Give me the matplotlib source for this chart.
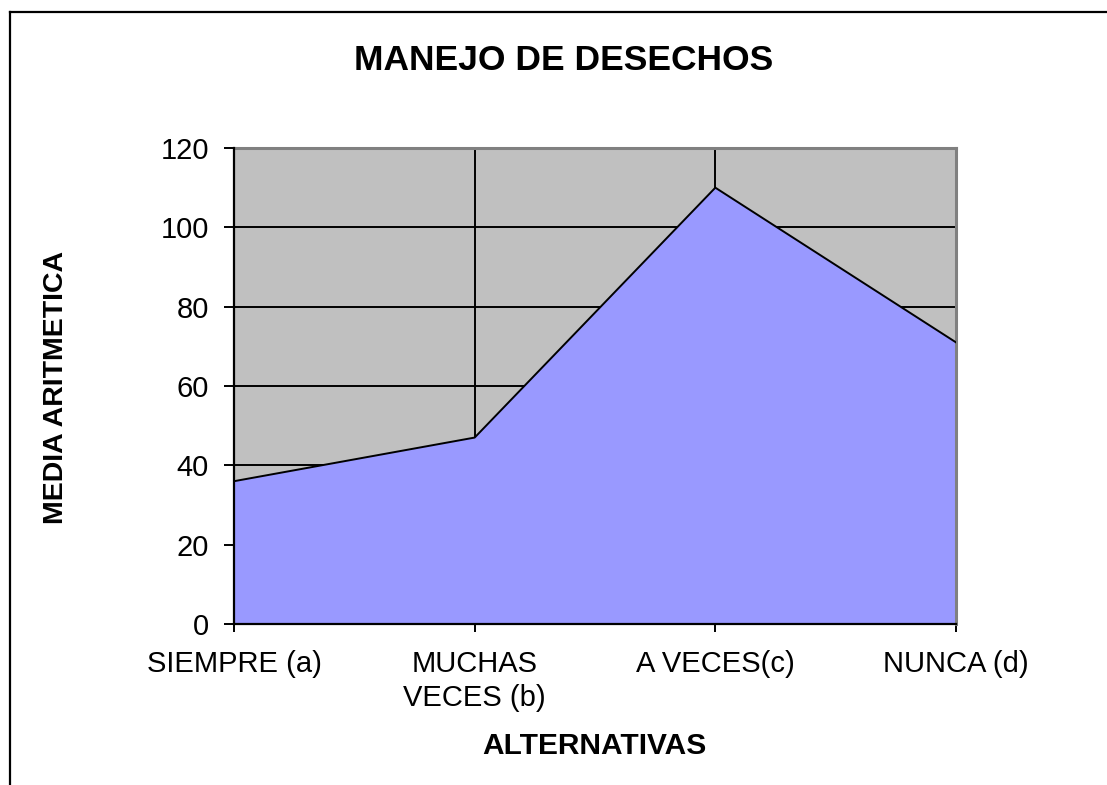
import matplotlib
matplotlib.use("Agg")
import matplotlib.pyplot as plt
from matplotlib.lines import Line2D

categories = ["SIEMPRE (a)", "MUCHAS\nVECES (b)", "A VECES(c)", "NUNCA (d)"]
values = [36, 47, 110, 71]
yticks = [0, 20, 40, 60, 80, 100, 120]

plt.rcParams['font.family'] = ['Liberation Sans', 'DejaVu Sans']

W, H = 1107, 785
fig = plt.figure(figsize=(W / 100, H / 100), dpi=100)
ax = fig.add_axes([234 / W, (H - 624) / H, (956 - 234) / W, (624 - 148) / H])

x = list(range(len(categories)))
ax.set_facecolor('#C0C0C0')
ax.fill_between(x, values, 0, facecolor='#9999FF', edgecolor='none', zorder=2)
ax.plot(x, values, color='black', lw=1.4, zorder=3)

ax.set_xlim(0, len(categories) - 1)
ax.set_ylim(0, 120)
ax.set_yticks(yticks)
ax.set_xticks(x)
ax.set_xticklabels(categories, fontsize=21, linespacing=1.27)
ax.tick_params(axis='y', labelsize=21, direction='out', length=7, width=1.4, pad=11)
ax.tick_params(axis='x', direction='out', length=6, width=1.4, pad=13)

ax.grid(True, color='black', lw=1.4, zorder=1)
ax.set_axisbelow(True)

for s in ['left', 'bottom']:
    ax.spines[s].set_color('black')
    ax.spines[s].set_linewidth(1.6)
    ax.spines[s].set_zorder(4)
for s in ['right', 'top']:
    ax.spines[s].set_color('#808080')
    ax.spines[s].set_linewidth(2.2)

fig.text(564 / W, 1 - 60 / H, "MANEJO DE DESECHOS", fontsize=25.5, fontweight='bold',
         ha='center', va='center')
fig.text(56 / W, 1 - 387 / H, "MEDIA ARITMETICA", fontsize=20.5, fontweight='bold',
         ha='center', va='center', rotation=90)
fig.text(594 / W, 1 - 746 / H, "ALTERNATIVAS", fontsize=21.5, fontweight='bold',
         ha='center', va='center')

# figure border (left and top)
fig.add_artist(Line2D([10 / W, 10 / W], [0, 1 - 12 / H], transform=fig.transFigure, color='black', lw=1.6))
fig.add_artist(Line2D([10 / W, 1], [1 - 12 / H, 1 - 12 / H], transform=fig.transFigure, color='black', lw=1.6))

fig.savefig("out.png", dpi=100)
